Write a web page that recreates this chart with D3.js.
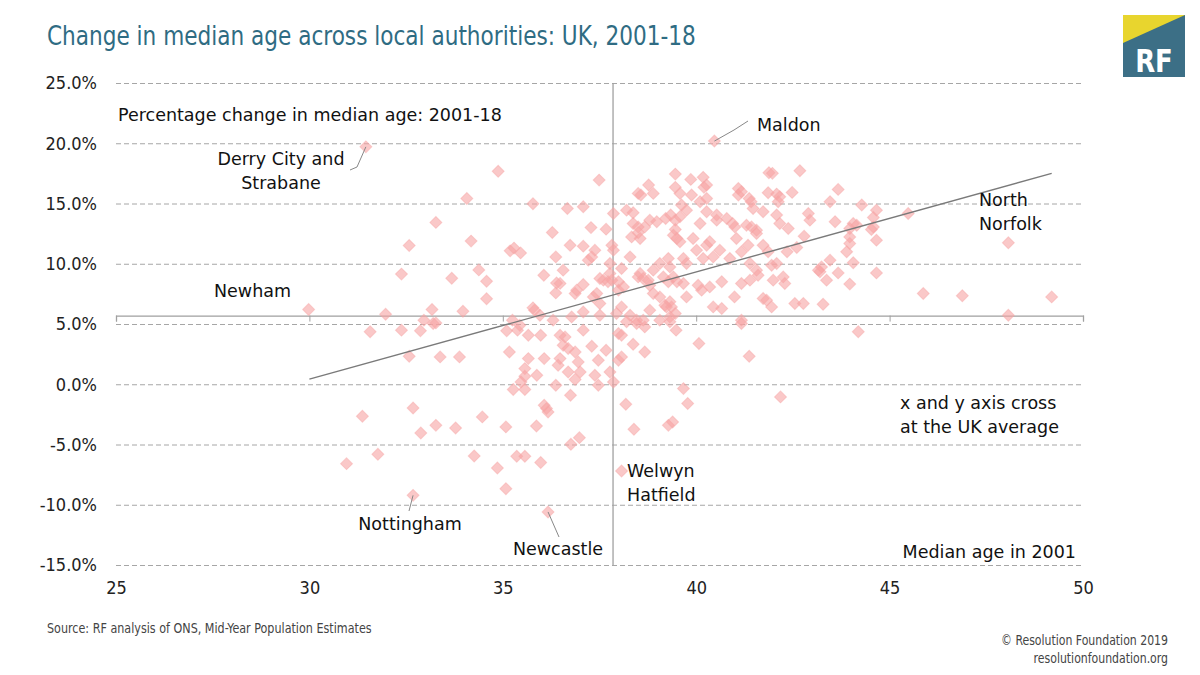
<!DOCTYPE html>
<html>
<head>
<meta charset="utf-8">
<script src="https://cdn.jsdelivr.net/npm/d3@7"></script>
<style>
  body { margin: 0; background: #fff; }
  svg { display: block; }
  .lbl { font-family: "DejaVu Sans", "Verdana", sans-serif; font-size: 17.5px; fill: #111; }
  .grid line { stroke: #a6a6a6; stroke-dasharray: 5,3; }
  .grid .domain { display: none; }
</style>
</head>
<body>
<svg></svg>
<script>
// median age in 2001 (x) and % change in median age 2001-18 (y), one entry per local authority
const medianAge2001 = [
  31.46, 34.88, 34.07, 35.78, 33.27, 34.18, 32.58, 36.28, 35.19, 35.29, 35.46, 36.37, 32.38, 33.68, 34.38, 34.58,
  34.58, 36.06, 36.39, 36.37, 29.98, 31.97, 33.17, 33.97, 35.78, 35.96, 36.30, 32.96, 33.20, 33.27, 35.25, 35.44,
  31.57, 32.38, 32.87, 35.10, 35.38, 35.66, 35.98, 32.58, 33.38, 33.88, 35.17, 35.66, 36.07, 35.57, 35.57, 35.88,
  35.47, 35.27, 35.57, 36.37, 36.07, 36.13, 36.17, 31.37, 32.68, 32.88, 33.27, 33.78, 34.47, 35.08, 35.87, 30.96,
  31.77, 34.26, 34.86, 35.36, 35.57, 35.98, 35.08, 32.68, 36.17,
  40.47, 37.49, 39.46, 39.86, 40.18, 40.27, 40.20, 41.88, 41.97, 42.68, 38.77, 38.89, 38.50, 38.57, 39.46, 39.58,
  39.88, 40.27, 41.09, 41.17, 41.09, 41.37, 41.42, 41.86, 42.08, 42.16, 42.12, 42.48, 36.67, 37.08, 37.86, 38.20,
  38.37, 39.62, 39.75, 40.10, 40.27, 40.53, 40.79, 40.94, 41.00, 41.47, 41.73, 42.08, 42.16, 42.90, 42.94, 38.37,
  38.50, 38.67, 38.80, 38.98, 39.21, 39.34, 39.46, 39.58, 40.10, 40.53, 41.30, 41.43, 41.56, 41.56, 42.38, 37.28,
  37.67, 38.33, 38.55, 38.50, 39.46, 39.41, 39.50, 39.58, 39.92, 40.27, 40.35, 41.04, 41.34, 41.73, 41.86, 42.35,
  42.60, 42.79, 36.74, 37.08, 37.38, 37.82, 37.86, 36.56, 36.48, 36.87, 36.91, 37.08, 37.21, 37.30, 37.51, 37.60,
  37.72, 37.82, 37.99, 37.43, 37.34, 37.51, 37.77, 37.77, 38.07, 38.29, 38.50, 38.63, 38.76, 38.55, 37.99, 38.12,
  38.89, 39.06, 39.28, 39.32, 39.67, 39.75, 40.01, 40.18, 40.44, 40.61, 39.15, 39.28, 39.41, 39.50, 39.67, 38.80,
  38.89, 39.32, 39.36, 39.19, 39.06, 39.75, 40.05, 40.14, 40.35, 40.66, 40.87, 41.17, 41.39, 41.56, 41.60, 41.17,
  41.39, 41.95, 42.08, 42.25, 42.29, 41.99, 41.73, 41.82, 40.44, 40.66, 40.99, 41.95, 42.55, 42.77, 43.16, 35.82,
  36.78, 37.08, 37.51, 37.94, 38.07, 38.29, 38.46, 38.63, 38.80, 39.23, 39.32, 39.46, 41.17, 41.17,
  36.48, 36.61, 37.08, 36.56, 36.69, 36.87, 37.30, 37.67, 36.48, 36.43, 36.69, 36.95, 37.00, 36.87, 37.47, 37.38,
  37.47, 37.77, 37.86, 36.75, 37.99, 38.07, 38.37, 38.67, 37.99, 38.07, 38.20, 38.46, 38.67, 39.06, 39.32, 39.48,
  40.07, 41.37, 38.18, 39.67, 39.78, 42.18, 38.39, 39.28, 39.39, 36.98, 36.76, 38.07,
  43.67, 43.46, 44.28, 44.66, 44.58, 43.59, 44.06, 44.15, 43.97, 44.58, 44.53, 45.48, 43.97, 43.97, 43.89, 44.66,
  43.46, 43.24, 43.20, 43.37, 43.67, 44.06, 43.97, 44.66, 43.28, 48.07, 45.87, 46.88, 49.19, 48.07, 44.19
];
const pctChange = [
  19.70, 17.67, 15.42, 14.98, 13.43, 11.88, 11.52, 12.60, 11.07, 11.30, 10.90, 10.57, 9.14, 8.80, 9.49, 8.55,
  7.09, 9.05, 8.40, 7.58, 6.20, 5.81, 6.20, 6.06, 6.34, 5.73, 5.32, 5.32, 5.04, 5.09, 5.32, 4.90,
  4.35, 4.49, 4.43, 4.43, 4.49, 4.07, 4.07, 2.33, 2.27, 2.27, 2.68, 2.13, 2.13, 1.30, 0.66, 0.75,
  0.19, -0.44, -0.44, -0.08, -1.74, -2.02, -2.30, -2.66, -1.97, -4.04, -3.41, -3.63, -2.71, -3.54, -3.46, -6.59,
  -5.81, -5.95, -6.95, -5.98, -5.98, -6.50, -8.67, -9.22, -10.60,
  20.18, 16.94, 17.44, 17.00, 17.17, 16.53, 16.34, 17.55, 17.50, 17.72, 16.53, 15.84, 15.84, 15.70, 16.34, 15.84,
  15.70, 15.42, 16.25, 15.97, 15.70, 15.42, 15.14, 15.89, 15.78, 15.56, 15.14, 15.92, 14.59, 14.73, 14.17, 14.45,
  14.23, 14.87, 14.45, 15.14, 14.31, 14.04, 13.76, 13.34, 13.06, 14.59, 14.31, 14.04, 13.34, 14.17, 13.62, 13.34,
  13.06, 13.06, 13.62, 13.48, 13.76, 14.04, 13.62, 13.90, 13.34, 13.62, 13.20, 13.06, 12.79, 12.51, 12.93, 13.00,
  12.87, 12.23, 12.10, 12.57, 12.84, 12.37, 12.10, 11.82, 12.10, 11.54, 11.82, 12.10, 11.54, 11.54, 10.99, 10.99,
  11.35, 12.29, 11.54, 11.46, 11.13, 11.54, 11.13, 9.47, 8.37, 7.53, 7.81, 8.28, 10.30, 10.57, 8.78, 8.64,
  8.50, 8.64, 8.50, 7.53, 7.25, 6.70, 10.02, 9.20, 9.61, 10.57, 8.91, 8.78, 8.64, 9.20, 7.81, 8.08,
  9.47, 10.02, 10.44, 9.74, 10.44, 10.02, 11.13, 10.44, 10.57, 11.13, 8.91, 8.50, 8.91, 8.50, 8.36, 8.22,
  7.53, 6.84, 6.42, 6.56, 7.25, 7.25, 8.22, 7.81, 8.08, 8.50, 10.44, 10.99, 10.02, 9.47, 9.05, 8.36,
  8.64, 9.88, 10.02, 8.91, 8.36, 8.64, 7.12, 6.98, 6.42, 6.28, 7.25, 6.42, 6.70, 6.70, 9.47, 6.15,
  5.59, 6.00, 5.73, 5.87, 6.42, 5.73, 5.32, 5.32, 6.15, 6.42, 5.59, 5.87, 5.32, 5.04,
  4.07, 3.93, 4.49, 3.24, 2.96, 2.68, 3.16, 2.82, 2.13, 1.58, 1.02, 1.85, 1.02, 0.39, 1.99, 0.75,
  -0.08, 1.02, 0.19, -0.91, 4.21, 4.07, 3.32, 2.68, 1.99, 2.27, 5.18, 5.04, 4.76, 5.32, 5.18, 4.49,
  3.38, 2.33, -1.66, -0.36, -1.60, -1.05, -3.74, -3.41, -3.13, -4.43, -4.98, -7.20,
  16.17, 15.14, 14.87, 14.45, 13.84, 13.48, 13.34, 13.20, 12.93, 13.06, 12.84, 14.17, 12.23, 11.68, 10.99, 11.96,
  10.30, 9.74, 9.33, 8.64, 9.24, 10.08, 8.31, 9.24, 6.64, 11.74, 7.53, 7.34, 7.25, 5.73, 4.35
];

const xTicks = [25, 30, 35, 40, 45, 50];
const yTicks = [-15, -10, -5, 0, 5, 10, 15, 20, 25];
const ukAverage = [37.85, 5.7];            // where the two axes cross
const trendLine = [[30, 0.42], [49.19, 17.5]];

const narrowFont = "Liberation Sans Narrow, DejaVu Sans Condensed, DejaVu Sans, sans-serif";

const svg = d3.select("svg").attr("width", 1200).attr("height", 675);
svg.append("rect").attr("width", 1200).attr("height", 675).attr("fill", "#fff");

const x = d3.scaleLinear().domain([25, 50]).range([116, 1083]);
const y = d3.scaleLinear().domain([-15, 25]).range([565, 83]);

// title (squeezed horizontally to mimic the condensed house font)
svg.append("text")
  .attr("transform", "translate(47,45) scale(0.89,1)")
  .attr("font-family", narrowFont)
  .attr("font-size", 27)
  .attr("fill", "#2f6c83")
  .text("Change in median age across local authorities: UK, 2001-18");

// logo
const logo = svg.append("g");
logo.append("rect").attr("x", 1123).attr("y", 15).attr("width", 62).attr("height", 62).attr("fill", "#3c6f86");
logo.append("path").attr("d", "M1123,15H1185L1123,43Z").attr("fill", "#e8d52e");
logo.append("text").attr("transform", "translate(1154,72) scale(0.9,1)").attr("text-anchor", "middle")
  .attr("font-family", narrowFont)
  .attr("font-weight", "bold").attr("font-size", 32).attr("fill", "#fff").text("RF");

// gridlines + y labels
const yAxis = svg.append("g")
  .attr("class", "grid")
  .attr("transform", `translate(${x(25)},0)`)
  .call(d3.axisLeft(y).tickValues(yTicks).tickSize(-(x(50) - x(25))).tickPadding(19)
    .tickFormat(d => d.toFixed(1) + "%"));
yAxis.selectAll("text").attr("font-size", 18).attr("fill", "#222")
  .attr("font-family", narrowFont);

// x labels at bottom
const xLab = svg.append("g")
  .attr("transform", `translate(0,${y(-15) + 13})`)
  .call(d3.axisBottom(x).tickValues(xTicks).tickSize(0));
xLab.select(".domain").remove();
xLab.selectAll("text").attr("font-size", 18).attr("fill", "#222")
  .attr("font-family", narrowFont);

// axes crossing at the UK average
const cross = svg.append("g")
  .attr("transform", `translate(0,${y(ukAverage[1])})`)
  .call(d3.axisBottom(x).tickValues(xTicks).tickSize(6).tickFormat(""));
cross.select(".domain").attr("stroke", "#a0a0a0").attr("stroke-width", 1.3);
cross.selectAll(".tick line").attr("stroke", "#a0a0a0");

svg.append("line")
  .attr("x1", x(ukAverage[0])).attr("x2", x(ukAverage[0]))
  .attr("y1", y(25)).attr("y2", y(-15))
  .attr("stroke", "#a0a0a0").attr("stroke-width", 1.3);

// points
const points = medianAge2001.map((a, i) => [a, pctChange[i]]);
svg.append("g").selectAll("path")
  .data(points)
  .join("path")
  .attr("d", d3.symbol(d3.symbolSquare, 72))
  .attr("transform", d => `translate(${x(d[0])},${y(d[1])}) rotate(45)`)
  .attr("fill", "#f7a3a3")
  .attr("fill-opacity", 0.6)
  .attr("stroke", "#f7a3a3")
  .attr("stroke-opacity", 0.45);

// trend line
svg.append("path")
  .datum(trendLine)
  .attr("d", d3.line().x(d => x(d[0])).y(d => y(d[1])))
  .attr("stroke", "#7a7a7a").attr("stroke-width", 1.4).attr("fill", "none");

// annotations
function label(lines, tx, ty, anchor, color) {
  const t = svg.append("text").attr("class", "lbl")
    .attr("text-anchor", anchor || "start")
    .attr("fill", color || "#111");
  lines.forEach((s, i) => {
    t.append("tspan").attr("x", tx).attr("y", ty + i * 24).text(s);
  });
}
function connector(pt, pts) {
  svg.append("path")
    .attr("d", d3.line()([[x(pt[0]), y(pt[1])], ...pts]))
    .attr("stroke", "#888").attr("fill", "none").attr("stroke-width", 1);
}

label(["Percentage change in median age: 2001-18"], 118, 121);
label(["Median age in 2001"], 1076, 558, "end");
label(["x and y axis cross", "at the UK average"], 900, 409, "start", "#7f7f7f");

connector([40.47, 20.18], [[734, 130], [748, 121]]);
label(["Maldon"], 757, 131);
connector([31.46, 19.7], [[357, 167], [350, 170]]);
label(["Derry City and", "Strabane"], 281, 165, "middle");
label(["North", "Norfolk"], 979, 206);
label(["Newham"], 214, 297);
label(["Welwyn", "Hatfield"], 627, 477);
connector([32.68, -9.22], [[409, 511]]);
label(["Nottingham"], 410, 530, "middle");
connector([36.17, -10.6], [[559, 537]]);
label(["Newcastle"], 558, 555, "middle");

// footer
svg.append("text").attr("transform", "translate(47,633) scale(0.92,1)")
  .attr("font-family", narrowFont).attr("font-size", 13.5).attr("fill", "#444")
  .text("Source: RF analysis of ONS, Mid-Year Population Estimates");
svg.append("text").attr("transform", "translate(1168,645) scale(0.9,1)")
  .attr("font-family", narrowFont).attr("text-anchor", "end").attr("font-size", 13.5).attr("fill", "#444")
  .text("© Resolution Foundation 2019");
svg.append("text").attr("transform", "translate(1168,663) scale(0.9,1)")
  .attr("font-family", narrowFont).attr("text-anchor", "end").attr("font-size", 13.5).attr("fill", "#444")
  .text("resolutionfoundation.org");
</script>
</body>
</html>
